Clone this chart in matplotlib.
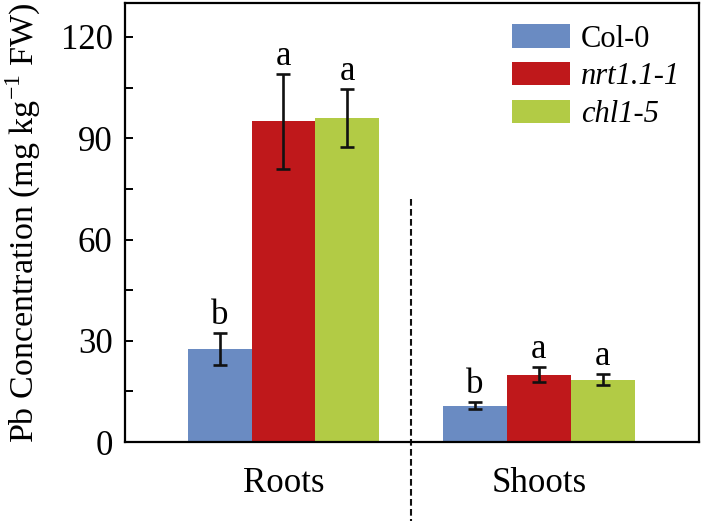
import numpy as np
import matplotlib
matplotlib.use("Agg")
import matplotlib.pyplot as plt

plt.rcParams['font.family'] = ['Liberation Serif', 'DejaVu Serif']
plt.rcParams['mathtext.fontset'] = 'custom'
plt.rcParams['mathtext.rm'] = 'Liberation Serif'

# data
tissues = ["Roots", "Shoots"]
genotypes = ["Col-0", "nrt1.1-1", "chl1-5"]
means = {
    "Col-0": [27.5, 10.8],
    "nrt1.1-1": [95.0, 20.0],
    "chl1-5": [96.0, 18.5],
}
errors = {
    "Col-0": [4.8, 1.1],
    "nrt1.1-1": [14.0, 2.2],
    "chl1-5": [8.7, 1.6],
}
letters = {
    "Col-0": ["b", "b"],
    "nrt1.1-1": ["a", "a"],
    "chl1-5": ["a", "a"],
}
colors = ["#6A8BC2", "#BF181B", "#B2CB45"]
italic = [False, True, True]

fig = plt.figure(figsize=(7.03, 5.22), dpi=100)
ax = fig.add_axes([0.178, 0.153, 0.816, 0.841])

x = np.arange(len(tissues))
width = 0.25
for i, g in enumerate(genotypes):
    pos = x + (i - 1) * width
    ax.bar(pos, means[g], width, color=colors[i], label=g, zorder=2)
    ax.errorbar(pos, means[g], yerr=errors[g], fmt='none', ecolor='#111111',
                elinewidth=1.9, capsize=5, capthick=1.9, zorder=3)
    for p, m, e, t in zip(pos, means[g], errors[g], letters[g]):
        ax.text(p, m + e + 2.6, t, ha='center', va='baseline', fontsize=25)

# dashed divider between groups
ax.plot([0.5, 0.5], [72, -23.5], ls=(0, (3.2, 1.6)), color='#111111', lw=1.5,
        clip_on=False, zorder=1)

ax.set_xlim(-0.62, 1.626)
ax.set_ylim(0, 130)
ax.set_xticks(x)
ax.set_xticklabels(tissues, fontsize=25)
ax.set_yticks([0, 30, 60, 90, 120])
ax.set_yticks([15, 45, 75, 105], minor=True)
ax.tick_params(axis='y', which='both', direction='in', length=5.5, width=1.4,
               labelsize=25, pad=9)
ax.tick_params(axis='x', length=0, pad=18)
for s in ax.spines.values():
    s.set_linewidth(1.6)

ax.set_ylabel(r"Pb Concentration (mg kg$^{\mathrm{-1}}$ FW)", fontsize=24.5)
ax.yaxis.set_label_coords(-0.143, 0.5)

leg = ax.legend(loc='upper left', bbox_to_anchor=(0.675, 0.952), frameon=False,
                fontsize=22, handlelength=1.9, handleheight=0.8,
                handletextpad=0.35, labelspacing=0.28, borderpad=0,
                borderaxespad=0)
for txt, it in zip(leg.get_texts(), italic):
    if it:
        txt.set_fontstyle('italic')

fig.savefig("out.png", dpi=100)
